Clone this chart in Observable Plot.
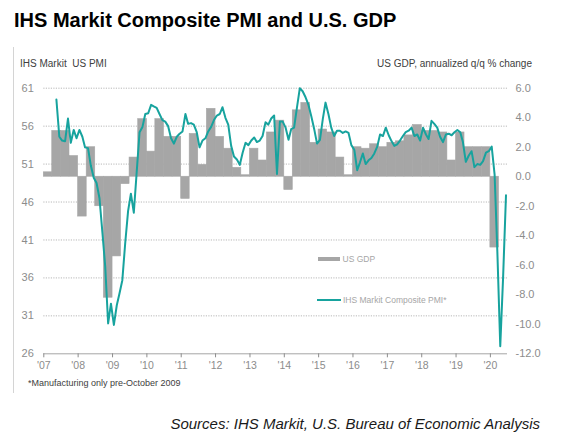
<!DOCTYPE html>
<html>
<head>
<meta charset="utf-8">
<script src="https://cdn.jsdelivr.net/npm/d3@7"></script>
<script src="https://cdn.jsdelivr.net/npm/@observablehq/plot@0.6"></script>
<style>
  html, body { margin: 0; padding: 0; background: #fff; }
  #wrap { position: relative; width: 567px; height: 433px; overflow: hidden; font-family: "Liberation Sans", Arial, sans-serif; }
  #wrap > div.t { position: absolute; white-space: nowrap; }
  #chart { position: absolute; left: 0; top: 0; }
</style>
</head>
<body>
<div id="wrap">
  <div id="chart"></div>
  <div class="t" style="left:14px;top:10px;font-size:20px;line-height:20px;font-weight:bold;color:#000;">IHS Markit Composite PMI and U.S. GDP</div>
  <div style="position:absolute;left:13px;top:47px;width:1px;height:346px;background:#d4d4d4;"></div>
  <div class="t" style="left:20px;top:58.5px;font-size:10px;line-height:10px;color:#404040;">IHS Markit&nbsp; US PMI</div>
  <div class="t" style="right:35px;top:58.5px;font-size:10px;line-height:10px;color:#404040;">US GDP, annualized q/q % change</div>
  <div style="position:absolute;left:318px;top:257px;width:22px;height:4px;background:#a6a6a6;"></div>
  <div class="t" style="left:342.5px;top:254.5px;font-size:8.5px;line-height:9px;color:#a6a6a6;">US GDP</div>
  <div style="position:absolute;left:317px;top:299px;width:24px;height:2px;background:#17a39e;"></div>
  <div class="t" style="left:343px;top:295.5px;font-size:8.5px;line-height:9px;color:#a6a6a6;">IHS Markit Composite PMI*</div>
  <div class="t" style="left:28px;top:379px;font-size:9px;line-height:9px;color:#404040;">*Manufacturing only pre-October 2009</div>
  <div class="t" style="right:27px;top:415.6px;font-size:15px;line-height:15px;font-style:italic;color:#1a1a1a;">Sources: IHS Markit, U.S. Bureau of Economic Analysis</div>
</div>
<script>
// ---- Data ----
// US GDP, annualized q/q % change, quarterly from 2007 Q1 to 2020 Q1
const gdpStartYear = 2007;
const gdpValues = [
  0.3, 3.1, 3.1, 1.4,     // 2007
  -2.7, 2.0, -2.0, -8.2,  // 2008
  -5.4, -0.5, 1.3, 3.9,   // 2009
  1.7, 3.9, 2.7, 2.7,     // 2010
  -1.5, 2.9, 0.8, 4.6,    // 2011
  2.7, 1.9, 0.6, 0.1,     // 2012
  1.9, 1.1, 3.0, 3.8,     // 2013
  -0.9, 4.5, 5.0, 2.3,    // 2014
  3.2, 3.0, 1.3, 0.1,     // 2015
  2.0, 1.9, 2.2, 2.0,     // 2016
  2.3, 2.4, 2.8, 3.5,     // 2017
  3.1, 3.1, 3.0, 1.1,     // 2018
  3.0, 2.0, 2.0, 2.0,     // 2019
  -4.8                    // 2020
];

// IHS Markit US PMI (manufacturing before Oct 2009, composite after), monthly from May 2007
const pmiStart = [2007, 4]; // year, month index (May)
const pmiValues = [
  59.5, 54.6, 54.1, 54.0, 57.0, 53.8, 55.5, 54.4,                         // May-Dec 2007
  55.5, 54.6, 53.2, 53.1, 50.8, 49.2, 48.5, 46.5, 42.0, 37.5, 30.0, 32.6, // 2008
  29.8, 32.4, 33.9, 35.7, 40.5, 44.8, 47.1, 44.6, 50.0, 55.2, 55.9, 57.6, // 2009
  57.7, 58.8, 58.6, 58.4, 57.6, 56.8, 56.6, 56.0, 54.4, 53.7, 54.6, 55.0, // 2010
  55.3, 57.6, 56.3, 56.4, 56.2, 55.2, 53.2, 54.1, 54.4, 55.3, 55.9, 56.8, // 2011
  57.4, 57.6, 58.5, 57.1, 56.2, 53.4, 52.0, 51.6, 50.9, 52.5, 53.8, 53.5, // 2012
  54.1, 54.5, 53.9, 54.1, 54.7, 56.5, 56.2, 57.0, 57.4, 49.7, 56.6, 56.6, // 2013
  55.8, 54.2, 55.6, 55.8, 58.4, 61.0, 60.6, 59.8, 58.8, 57.3, 55.6, 53.7, // 2014
  54.2, 57.0, 59.1, 57.6, 55.8, 54.7, 55.4, 55.4, 55.1, 55.3, 55.1, 53.5, // 2015
  52.9, 50.2, 51.2, 52.4, 51.0, 51.5, 51.8, 52.4, 53.3, 54.9, 54.7, 55.8, // 2016
  54.8, 54.0, 53.4, 53.6, 54.1, 54.7, 55.2, 55.4, 55.8, 54.7, 54.9, 54.1, // 2017
  55.8, 54.9, 54.3, 56.7, 56.3, 55.8, 54.6, 53.9, 54.9, 55.0, 54.8, 55.2, // 2018
  55.5, 55.2, 53.9, 51.3, 52.1, 52.7, 50.6, 51.0, 50.9, 51.4, 52.5, 52.7, // 2019
  53.3, 49.6, 39.5, 27.0, 36.0, 46.9                                      // Jan-Jun 2020
];

// Axis ticks
const pmiTicks = [26, 31, 36, 41, 46, 51, 56, 61];
const gdpTicks = [-12, -10, -8, -6, -4, -2, 0, 2, 4, 6];
const yearTicks = [2007, 2008, 2009, 2010, 2011, 2012, 2013, 2014, 2015, 2016, 2017, 2018, 2019, 2020];

// ---- Build tables ----
// The two y axes are aligned: GDP 6 <-> PMI 61 and GDP -12 <-> PMI 26
const toPMI = g => 26 + (g + 12) * 35 / 18;
const toGDP = p => (p - 26) * 18 / 35 - 12;
const gdpZero = toPMI(0);

const gdpData = gdpValues.map((g, i) => ({
  start: new Date(Date.UTC(gdpStartYear, i * 3, 1)),
  end: new Date(Date.UTC(gdpStartYear, i * 3 + 3, 1)),
  g
}));
const pmiData = pmiValues.map((v, i) => ({
  date: new Date(Date.UTC(pmiStart[0], pmiStart[1] + i, 15)),
  v
}));
const yearDates = yearTicks.map(y => new Date(Date.UTC(y, 0, 1)));

const teal = "#17a39e";
const barGrey = "#a6a6a6";
const tickGrey = "#8c8c8c";

const chart = Plot.plot({
  width: 567,
  height: 433,
  marginLeft: 43.3,
  marginRight: 60,
  marginTop: 87.7,
  marginBottom: 79.7,
  style: { fontFamily: "'Liberation Sans', Arial, sans-serif", background: "transparent" },
  x: { type: "utc", domain: [new Date(Date.UTC(2007, 0, 1)), new Date(Date.UTC(2020, 6, 1))], label: null },
  y: { domain: [26, 61], label: null },
  marks: [
    Plot.gridY(pmiTicks.filter(t => t > 26), { stroke: "#b8b8b8", strokeOpacity: 1, strokeDasharray: "1.2,1.3" }),
    Plot.rect(gdpData, { x1: "start", x2: "end", y1: () => gdpZero, y2: d => toPMI(d.g), fill: barGrey, stroke: barGrey, strokeWidth: 0.6 }),
    Plot.ruleY([26], { stroke: "#a6a6a6", strokeWidth: 1 }),
    Plot.line(pmiData, { x: "date", y: "v", stroke: teal, strokeWidth: 2, curve: "linear" }),
    Plot.axisY({ anchor: "left", ticks: pmiTicks, tickSize: 0, tickPadding: 10, fontSize: 11, color: tickGrey, label: null }),
    Plot.axisY({
      anchor: "right",
      ticks: gdpTicks.map(toPMI),
      tickFormat: p => { const g = Math.round(toGDP(p) * 10) / 10; return (g === 0 ? 0 : g).toFixed(1); },
      tickSize: 0, tickPadding: 8, fontSize: 11, color: tickGrey, label: null
    }),
    Plot.axisX({
      ticks: yearDates,
      tickFormat: d => "'" + String(d.getUTCFullYear()).slice(2),
      tickSize: 4, tickPadding: 4, fontSize: 10.5, color: tickGrey, label: null
    })
  ]
});
document.getElementById("chart").appendChild(chart);
</script>
</body>
</html>
